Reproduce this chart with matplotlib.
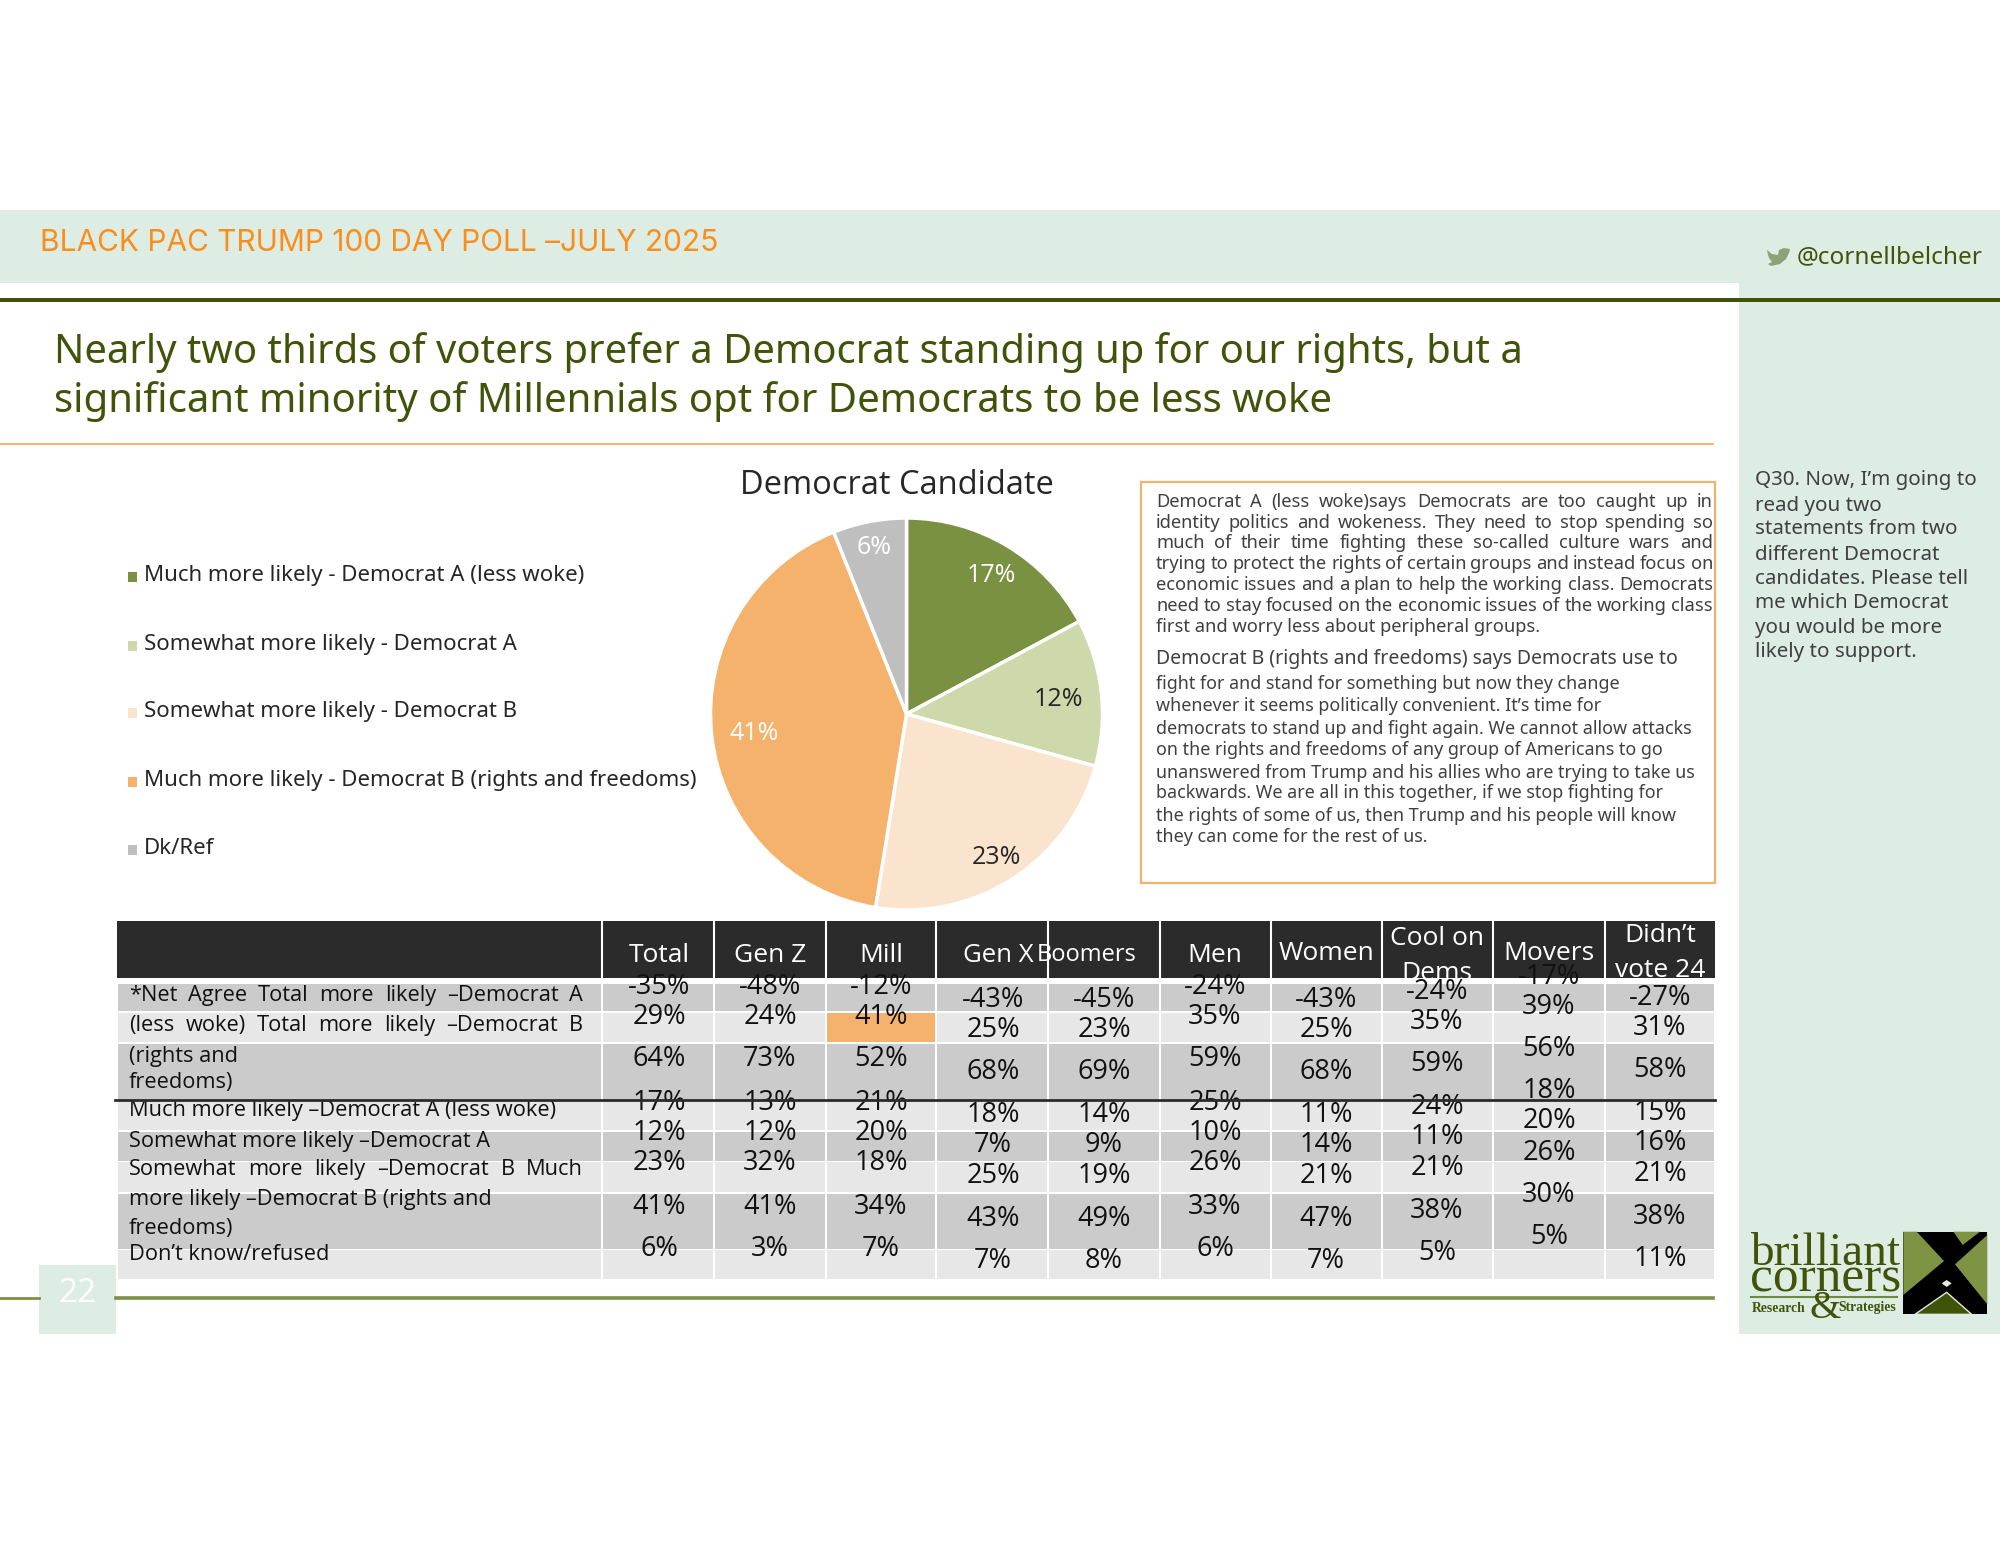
import matplotlib
matplotlib.use('Agg')
import matplotlib.pyplot as plt
import numpy as np
from matplotlib.patches import Rectangle, Polygon

plt.rcParams['font.family'] = ['Open Sans', 'DejaVu Sans']

# --- data ---
pie_labels = ['Much more likely - Democrat A (less woke)', 'Somewhat more likely - Democrat A',
              'Somewhat more likely - Democrat B', 'Much more likely - Democrat B (rights and freedoms)', 'Dk/Ref']
pie_values = [17, 12, 23, 41, 6]

table_columns = ['Total', 'Gen Z', 'Mill', 'Gen X', 'Boomers', 'Men', 'Women', 'Cool on\nDems', 'Movers', 'Didn’t\nvote 24']
total = [-35, 29, 64, 17, 12, 23, 41, 6]
gen_z = [-48, 24, 73, 13, 12, 32, 41, 3]
mill = [-12, 41, 52, 21, 20, 18, 34, 7]
gen_x = [-43, 25, 68, 18, 7, 25, 43, 7]
boomers = [-45, 23, 69, 14, 9, 19, 49, 8]
men = [-24, 35, 59, 25, 10, 26, 33, 6]
women = [-43, 25, 68, 11, 14, 21, 47, 7]
cool = [-24, 35, 59, 24, 11, 21, 38, 5]
movers = [-17, 39, 56, 18, 20, 26, 30, 5]
didnt_vote = [-27, 31, 58, 15, 16, 21, 38, 11]
table_values = [total, gen_z, mill, gen_x, boomers, men, women, cool, movers, didnt_vote]

# (text, justified?)
row_label_lines = [('*Net Agree Total more likely –Democrat A', True),
                   ('(less woke) Total more likely –Democrat B', True),
                   ('(rights and', False), ('freedoms)', False),
                   ('Much more likely –Democrat A (less woke)', False),
                   ('Somewhat more likely –Democrat A', False),
                   ('Somewhat more likely –Democrat B Much', True),
                   ('more likely –Democrat B (rights and', False),
                   ('freedoms)', False), ('Don’t know/refused', False)]

para_a = [('Democrat A (less woke)says Democrats are too caught up in', True),
          ('identity politics and wokeness. They need to stop spending so', True),
          ('much of their time fighting these so-called culture wars and', True),
          ('trying to protect the rights of certain groups and instead focus on', True),
          ('economic issues and a plan to help the working class. Democrats', True),
          ('need to stay focused on the economic issues of the working class', True),
          ('first and worry less about peripheral groups.', False)]
para_b = ['Democrat B (rights and freedoms) says Democrats use to',
          'fight for and stand for something but now they change',
          'whenever it seems politically convenient. It’s time for',
          'democrats to stand up and fight again. We cannot allow attacks',
          'on the rights and freedoms of any group of Americans to go',
          'unanswered from Trump and his allies who are trying to take us',
          'backwards. We are all in this together, if we stop fighting for',
          'the rights of some of us, then Trump and his people will know',
          'they can come for the rest of us.']
question = ['Q30. Now, I’m going to', 'read you two', 'statements from two', 'different Democrat',
            'candidates. Please tell', 'me which Democrat', 'you would be more', 'likely to support.']

# --- layout ---
GREEN_BG = '#DDEDE3'
DARK_GREEN = '#3F5409'
ORANGE = '#F4B26C'
pie_colors = ['#7B9142', '#CDD9AB', '#FBE4CE', ORANGE, '#BFBFBF']
pie_text_colors = ['white', '#262626', '#262626', 'white', 'white']
pie_text_r = [0.84, 0.78, 0.85, 0.78, 0.88]
legend_y = [575.5, 644.5, 711.5, 780.5, 848.5]

col_edges = [117, 602, 714, 826, 936, 1048, 1160, 1271, 1382, 1493, 1605, 1715]
col_centers = [659, 770, 881, 993, 1104, 1215, 1326, 1437, 1549, 1660]
row_spans = [(984, 1011), (1013, 1042), (1044, 1100), (1101, 1130), (1132, 1161), (1162, 1192), (1194, 1249), (1250, 1279)]
row_text_y = [987.5, 1017.5, 1059.5, 1102.5, 1132.5, 1163.5, 1206.5, 1248.5]
col_shift = [0, 0, 0, 12.3, 12.3, 0, 12.3, 4.6, -11, 10.5]
header_pos = [(659, 955), (770, 955), (881, 955), (998, 955), (1087, 955), (1215, 955), (1326, 954), (1437, 956), (1549, 953), (1660, 953)]
header_size = [19, 19, 19, 18.5, 17, 19, 19, 19, 19, 19]
label_y = [995.5, 1025.5, 1056.5, 1082.5, 1110.5, 1141.5, 1169.5, 1199.5, 1228.5, 1254.5]
para_a_y = [502, 523, 543, 564, 585, 606, 627]
para_b_y = [659, 684, 706, 729, 750, 773, 793, 816, 837]
question_y = [480.5, 505.5, 529.5, 554.5, 578.5, 603.5, 628.5, 652.5]

fig = plt.figure(figsize=(20, 15.45), dpi=100)
page = fig.add_axes([0, 0, 1, 1])
page.set_xlim(0, 2000)
page.set_ylim(1545, 0)
page.axis('off')


def box(x0, y0, x1, y1, color, z=1, **kw):
    page.add_patch(Rectangle((x0, y0), x1 - x0, y1 - y0, facecolor=color, edgecolor='none', zorder=z, **kw))


def justified(x0, x1, y, line, **kw):
    # 両端揃え: 単語を測って隙間を均等に配る
    words = line.split(' ')
    renderer = fig.canvas.get_renderer()
    items = [page.text(0, y, w, ha='left', va='center', **kw) for w in words]
    widths = [t.get_window_extent(renderer).width for t in items]
    gap = (x1 - x0 - sum(widths)) / (len(words) - 1)
    x = x0
    for t, w in zip(items, widths):
        t.set_x(x)
        x += w + gap


def logo_poly(points, color, z=4, **kw):
    # ロゴ用: ズーム画像の座標をページ座標へ
    pts = [(1740 + x / 3, 1215 + y / 3) for x, y in points]
    page.add_patch(Polygon(pts, facecolor=color, edgecolor=kw.pop('edgecolor', 'none'), zorder=z, **kw))


# background bands
box(0, 210, 1739, 283, GREEN_BG)
box(1739, 210, 2000, 1334, GREEN_BG)
box(39, 1265, 116, 1334, GREEN_BG)
box(0, 297.5, 2000, 302, DARK_GREEN, z=3)
page.plot([0, 1713], [444, 444], color='#F7A650', lw=1.2, zorder=2)
page.plot([0, 39], [1298, 1298], color='#7B9142', lw=2, zorder=2)
page.plot([116, 1713], [1298, 1298], color='#7B9142', lw=2.6, zorder=2)

page.text(40, 243, 'BLACK PAC TRUMP 100 DAY POLL –JULY 2025', color='#F98E1D', fontsize=21.5,
          va='center', family='Inter')
page.text(1797, 257, '@cornellbelcher', color=DARK_GREEN, fontsize=17.5, va='center', family='Noto Sans')
page.add_patch(Polygon([(1767, 250), (1772, 254), (1778, 255), (1779, 250), (1784, 248), (1790, 249), (1789, 253),
                        (1786, 259), (1780, 264), (1771, 266), (1768, 264), (1772, 262), (1769, 258), (1768, 255)],
                       facecolor='#8DA277', edgecolor='none', zorder=3))
page.text(54, 353, 'Nearly two thirds of voters prefer a Democrat standing up for our rights, but a',
          color=DARK_GREEN, fontsize=28.8, va='center', family='Noto Sans')
page.text(54, 402, 'significant minority of Millennials opt for Democrats to be less woke',
          color=DARK_GREEN, fontsize=28.9, va='center', family='Noto Sans')
page.text(77, 1294, '22', color='white', fontsize=24, ha='center', va='center', zorder=4)

# pie
pie_ax = fig.add_axes([710.5 / 2000, (1545 - 910) / 1545, 392 / 2000, 392 / 1545])
wedges, _ = pie_ax.pie(pie_values, colors=pie_colors, startangle=90, counterclock=False,
                       wedgeprops={'edgecolor': 'white', 'linewidth': 2.5})
pie_ax.set_xlim(-1, 1)
pie_ax.set_ylim(-1, 1)
for w, v, c, r in zip(wedges, pie_values, pie_text_colors, pie_text_r):
    ang = np.deg2rad((w.theta1 + w.theta2) / 2)
    pie_ax.text(r * np.cos(ang), r * np.sin(ang) - 0.015, f'{v}%', color=c, fontsize=18, ha='center', va='center')
page.text(897, 485, 'Democrat Candidate', color='#262626', fontsize=23.5, ha='center', va='center')

for y, lab, c in zip(legend_y, pie_labels, pie_colors):
    box(128, y - 4, 137, y + 6, c)
    page.text(144, y, lab, color='#262626', fontsize=16, va='center', family='Noto Sans')

# statement box
page.add_patch(Rectangle((1141, 482), 574, 401, facecolor='white', edgecolor=ORANGE, lw=1.6, zorder=2))
body = dict(color='#404040', fontsize=13.2, family='Noto Sans', zorder=3)
for y, (line, just) in zip(para_a_y, para_a):
    if just:
        justified(1156, 1713, y, line, **body)
    else:
        page.text(1156, y, line, va='center', **body)
for k, (y, line) in enumerate(zip(para_b_y, para_b)):
    size = 14 if k == 0 else 12.9
    page.text(1156, y, line, va='center', **{**body, 'fontsize': size})
for y, line in zip(question_y, question):
    page.text(1755, y, line, color='#404040', fontsize=14.8, va='center', family='Noto Sans', zorder=3)

# table
box(col_edges[0], 921, col_edges[-1], 978, '#2B2B2B', z=2)
for x in col_edges[1:-1]:
    page.plot([x, x], [921, 978], color='white', lw=1.5, zorder=3)
for i, (y0, y1) in enumerate(row_spans):
    for j in range(len(col_edges) - 1):
        color = '#CBCBCB' if i % 2 == 0 else '#E7E7E7'
        if i == 1 and j == 3:
            color = ORANGE
        box(col_edges[j] + 1, y0, col_edges[j + 1] - 1, y1, color, z=2)
for (x, y), name, size in zip(header_pos, table_columns, header_size):
    page.text(x, y, name, color='white', fontsize=size, ha='center', va='center', linespacing=1.5, zorder=5)
for j, col in enumerate(table_values):
    for i, v in enumerate(col):
        page.text(col_centers[j], row_text_y[i] + col_shift[j], f'{v}%', color='#111111', fontsize=19.5,
                  ha='center', va='center', zorder=5)
table_label = dict(color='#111111', fontsize=15.7, zorder=5)
for y, (line, just) in zip(label_y, row_label_lines):
    if just:
        justified(129, 583, y, line, **table_label)
    else:
        page.text(129, y, line, va='center', **table_label)
page.plot([115, 1715], [1100, 1100], color='#2B2B2B', lw=2, zorder=6)

# logo
serif = dict(family='Liberation Serif', color=DARK_GREEN, zorder=4)
page.text(1750, 1265, 'brilliant', fontsize=34, va='baseline', **serif)
page.text(1750, 1292, 'corners', fontsize=37, va='baseline', **serif)
page.plot([1751, 1897], [1297, 1297], color='#6F8A3C', lw=1.5, zorder=4)
page.text(1752, 1308, 'Research', fontsize=9.8, va='center', fontweight='bold', **serif)
page.text(1838, 1308, 'Strategies', fontsize=9.8, va='center', fontweight='bold', **serif)
page.text(1825, 1308, '&', fontsize=29, ha='center', va='center', **serif)
box(1903, 1232, 1987, 1314, 'black', z=3)
logo_poly([(490, 50), (530, 50), (612, 138), (490, 240)], '#7F9345')
logo_poly([(640, 50), (720, 50), (668, 90)], '#7F9345')
logo_poly([(742, 60), (645, 148), (742, 268)], '#7F9345')
logo_poly([(525, 298), (620, 232), (695, 298)], DARK_GREEN, edgecolor='#DDEDE3', lw=1)
logo_poly([(605, 205), (620, 195), (635, 205), (620, 216)], '#DDEDE3')

fig.savefig('out.png', dpi=100, facecolor='white')
plt.close(fig)
